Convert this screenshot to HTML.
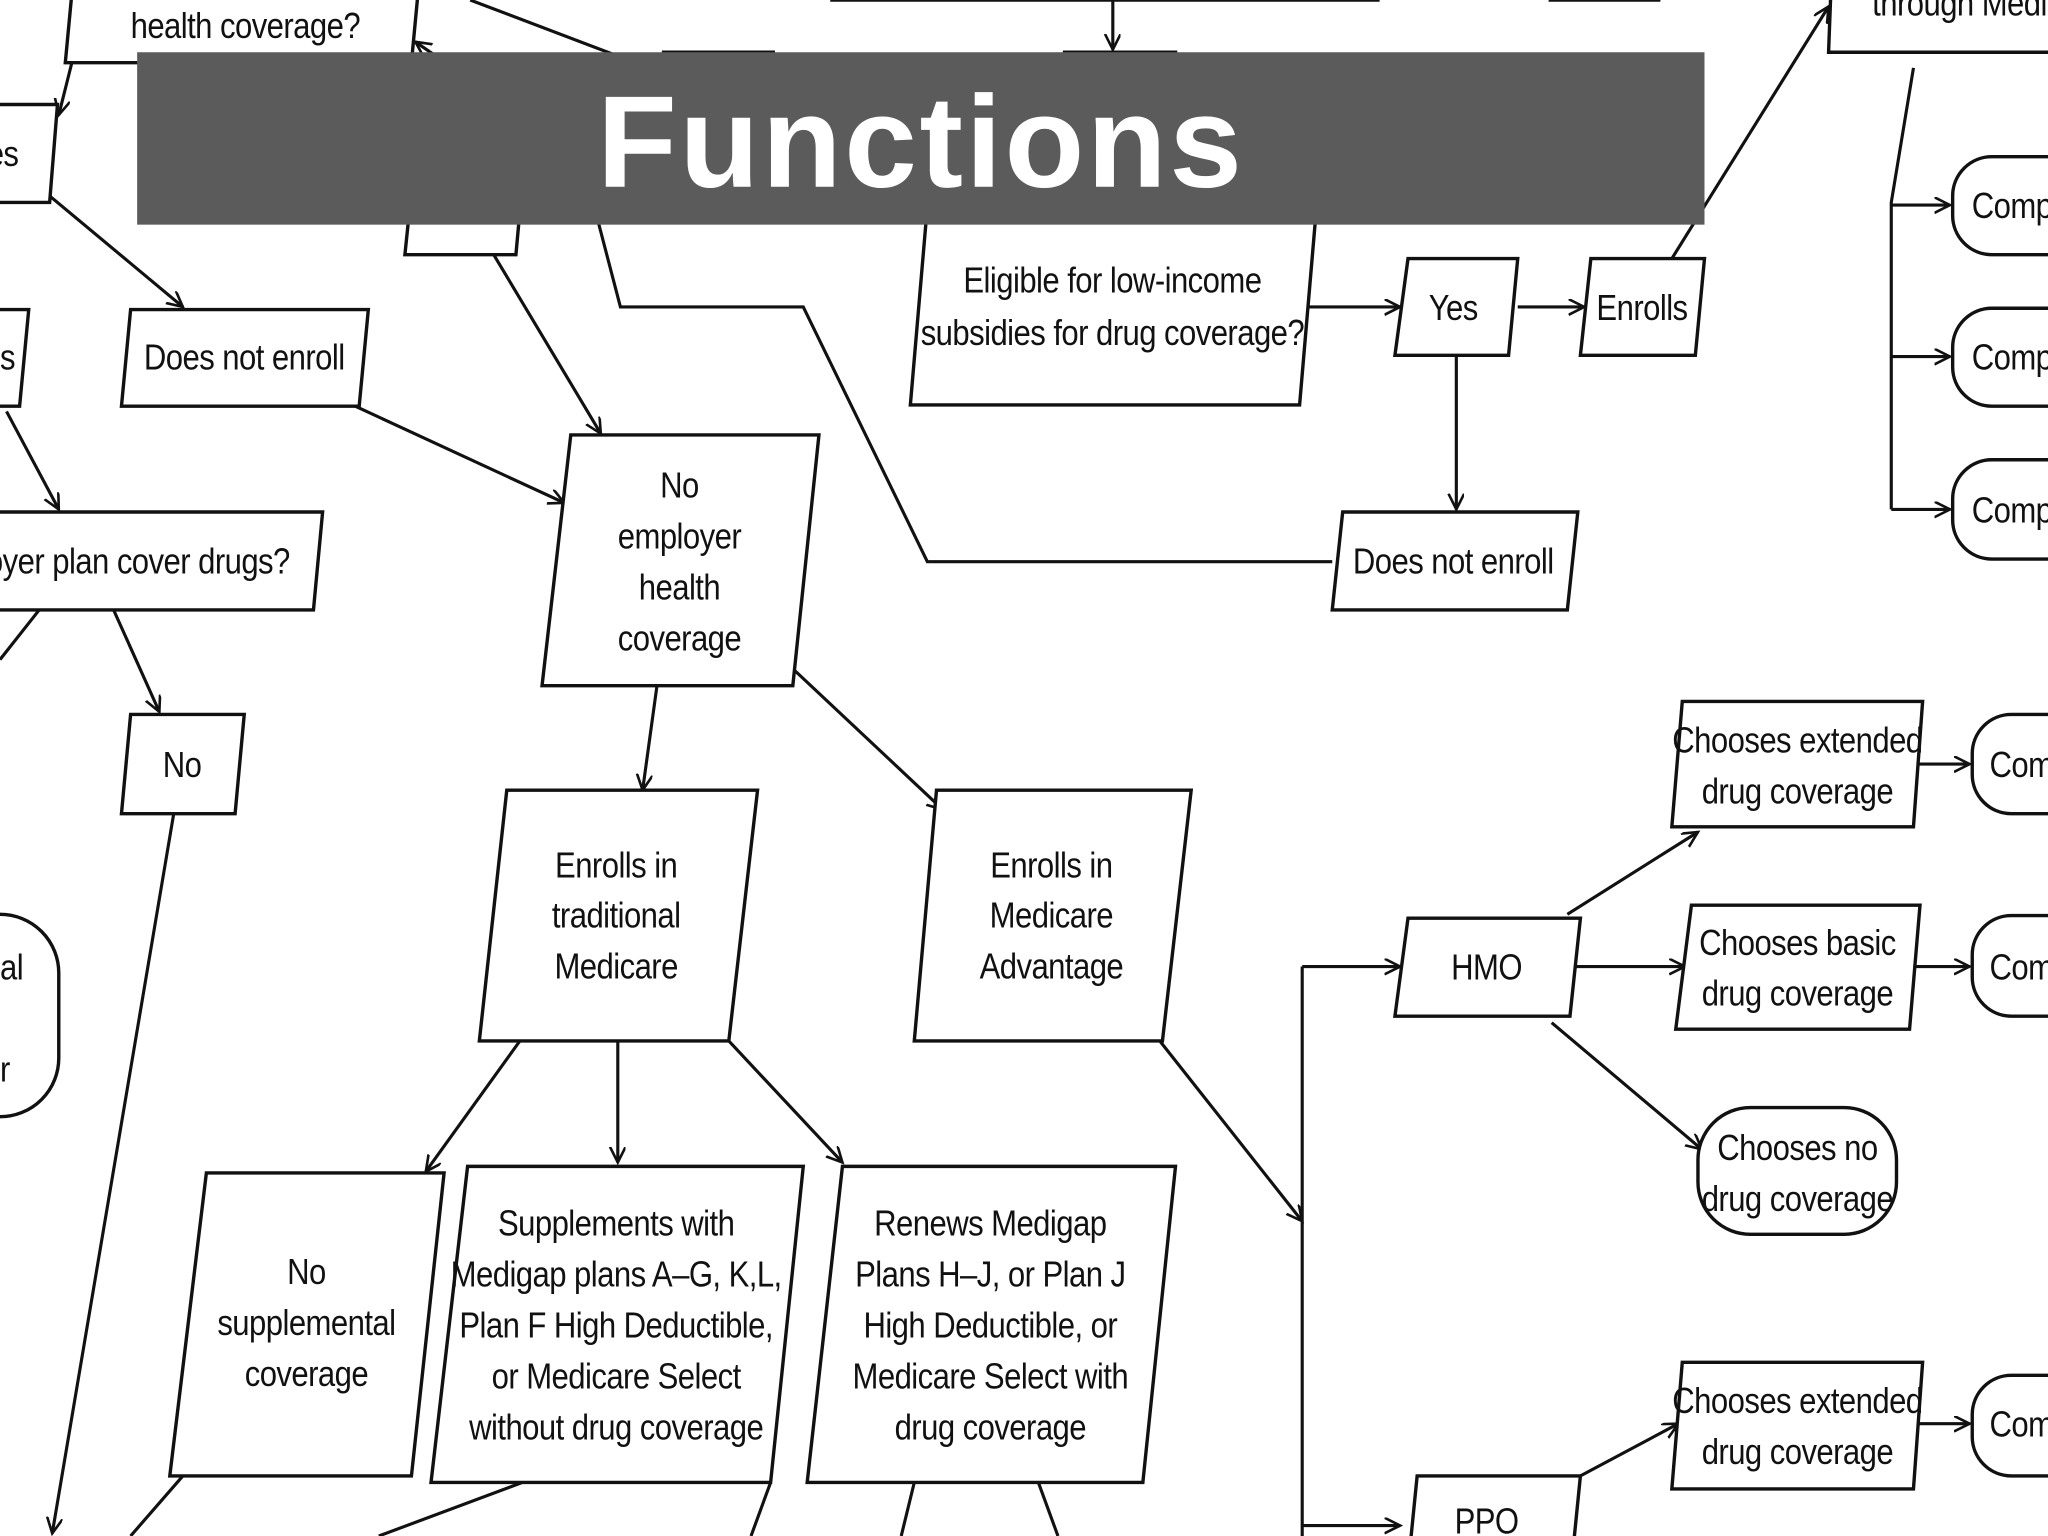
<!DOCTYPE html>
<html><head><meta charset="utf-8"><style>
html,body{margin:0;padding:0;background:#fff;}
svg{display:block;}
text{font-family:"Liberation Sans",Arial,sans-serif;font-size:28px;fill:#111;text-anchor:middle;letter-spacing:-0.5px;}
.s{fill:#fff;stroke:#111;stroke-width:2.6;}
.l{fill:none;stroke:#111;stroke-width:2.4;}
</style></head><body>
<svg width="2048" height="1536" viewBox="0 0 1568 1176" xmlns="http://www.w3.org/2000/svg">
<defs><marker id="a" markerWidth="14" markerHeight="14" refX="12" refY="6" orient="auto" markerUnits="userSpaceOnUse"><path d="M0,0 L12,6 L0,12" fill="none" stroke="#111" stroke-width="2"/></marker></defs>
<rect width="1568" height="1176" fill="#fff"/>
<g class="l">
<line x1="360" y1="0" x2="505" y2="55"/>
<line x1="852" y1="0" x2="852" y2="38" marker-end="url(#a)"/>
<line x1="55" y1="48" x2="45" y2="88" marker-end="url(#a)"/>
<line x1="240" y1="48" x2="318" y2="120" marker-end="url(#a)"/>
<polyline points="1020,430 710,430 615,235 475,235 445,120 318,32" marker-end="url(#a)"/>
<line x1="852" y1="110" x2="852" y2="158" marker-end="url(#a)"/>
<line x1="1000" y1="235" x2="1072" y2="235" marker-end="url(#a)"/>
<line x1="1162" y1="235" x2="1213" y2="235" marker-end="url(#a)"/>
<line x1="1280" y1="198" x2="1400" y2="5" marker-end="url(#a)"/>
<line x1="1115" y1="272" x2="1115" y2="390" marker-end="url(#a)"/>
<polyline points="1465,52 1448,155 1448,390"/>
<line x1="1448" y1="157" x2="1493" y2="157" marker-end="url(#a)"/>
<line x1="1448" y1="273" x2="1493" y2="273" marker-end="url(#a)"/>
<line x1="1448" y1="390" x2="1493" y2="390" marker-end="url(#a)"/>
<line x1="38" y1="150" x2="140" y2="235" marker-end="url(#a)"/>
<line x1="5" y1="315" x2="45" y2="390" marker-end="url(#a)"/>
<line x1="272" y1="311" x2="432" y2="385" marker-end="url(#a)"/>
<line x1="378" y1="195" x2="460" y2="332" marker-end="url(#a)"/>
<line x1="30" y1="467" x2="0" y2="505"/>
<line x1="87" y1="467" x2="122" y2="545" marker-end="url(#a)"/>
<line x1="133" y1="623" x2="40" y2="1174" marker-end="url(#a)"/>
<line x1="503" y1="525" x2="492" y2="605" marker-end="url(#a)"/>
<line x1="607" y1="512" x2="722" y2="620" marker-end="url(#a)"/>
<line x1="398" y1="797" x2="326" y2="897" marker-end="url(#a)"/>
<line x1="473" y1="797" x2="473" y2="890" marker-end="url(#a)"/>
<line x1="558" y1="797" x2="645" y2="890" marker-end="url(#a)"/>
<line x1="888" y1="797" x2="997" y2="935" marker-end="url(#a)"/>
<line x1="997" y1="740" x2="997" y2="1176"/>
<line x1="997" y1="740" x2="1072" y2="740" marker-end="url(#a)"/>
<line x1="997" y1="1168" x2="1072" y2="1168" marker-end="url(#a)"/>
<line x1="1200" y1="700" x2="1300" y2="637" marker-end="url(#a)"/>
<line x1="1205" y1="740" x2="1290" y2="740" marker-end="url(#a)"/>
<line x1="1188" y1="783" x2="1303" y2="880" marker-end="url(#a)"/>
<line x1="1468" y1="585" x2="1508" y2="585" marker-end="url(#a)"/>
<line x1="1465" y1="740" x2="1508" y2="740" marker-end="url(#a)"/>
<line x1="1468" y1="1090" x2="1508" y2="1090" marker-end="url(#a)"/>
<line x1="1210" y1="1130" x2="1285" y2="1090" marker-end="url(#a)"/>
<line x1="140" y1="1130" x2="100" y2="1176"/>
<line x1="400" y1="1135" x2="290" y2="1176"/>
<line x1="590" y1="1135" x2="575" y2="1176"/>
<line x1="700" y1="1135" x2="690" y2="1176"/>
<line x1="795" y1="1135" x2="810" y2="1176"/>
</g>
<g class="s">
<polygon points="55,-5 320,-5 315,48 50,48"/>
<polygon points="640,-40 1058,-40 1055,0 637,0"/>
<polygon points="1190,-40 1273,-40 1270,0 1187,0"/>
<polygon points="1403,-40 1600,-40 1600,40 1400,40"/>
<polygon points="508,40 592,40 587,110 503,110"/>
<polygon points="815,40 900,40 895,110 810,110"/>
<polygon points="-10,80 44,80 38,155 -10,155"/>
<polygon points="318,118 402,118 395,195 310,195"/>
<polygon points="710,158 1008,158 995,310 697,310"/>
<polygon points="1078,198 1162,198 1155,272 1068,272"/>
<polygon points="1218,198 1305,198 1298,272 1210,272"/>
<polygon points="1028,392 1208,392 1200,467 1020,467"/>
<rect x="1495" y="120" width="120" height="75" rx="30"/>
<rect x="1495" y="236" width="120" height="75" rx="30"/>
<rect x="1495" y="352" width="120" height="76" rx="30"/>
<polygon points="100,237 282,237 275,311 93,311"/>
<polygon points="-10,237 22,237 15,311 -10,311"/>
<polygon points="-10,392 247,392 240,467 -10,467"/>
<polygon points="437,333 627,333 607,525 415,525"/>
<polygon points="100,547 187,547 180,623 93,623"/>
<rect x="-80" y="700" width="125" height="155" rx="45"/>
<polygon points="388,605 580,605 558,797 367,797"/>
<polygon points="717,605 912,605 890,797 700,797"/>
<polygon points="1078,703 1210,703 1202,778 1068,778"/>
<polygon points="1288,537 1472,537 1465,633 1280,633"/>
<polygon points="1295,693 1470,693 1462,788 1283,788"/>
<rect x="1300" y="848" width="152" height="97" rx="40"/>
<polygon points="1288,1043 1472,1043 1465,1140 1280,1140"/>
<rect x="1510" y="547" width="100" height="76" rx="30"/>
<rect x="1510" y="701" width="100" height="77" rx="30"/>
<rect x="1510" y="1053" width="100" height="77" rx="30"/>
<polygon points="1085,1130 1210,1130 1203,1200 1078,1200"/>
<polygon points="158,898 340,898 315,1130 130,1130"/>
<polygon points="358,893 615,893 590,1135 330,1135"/>
<polygon points="645,893 900,893 875,1135 618,1135"/>
</g>
<g transform="scale(0.85,1)">
<text x="221" y="29">health coverage?</text>
<text x="1765" y="12">through Medi</text>
<text x="639" y="87">No</text>
<text x="1002" y="87">No</text>
<text x="-12" y="127" style="text-anchor:start">es</text>
<text x="416" y="166">No</text>
<text x="1002" y="224">Eligible for low-income</text>
<text x="1002" y="264">subsidies for drug coverage?</text>
<text x="1309" y="245">Yes</text>
<text x="1479" y="245">Enrolls</text>
<text x="1309" y="439">Does not enroll</text>
<text x="1776" y="167" style="text-anchor:start">Comp</text>
<text x="1776" y="283" style="text-anchor:start">Comp</text>
<text x="1776" y="400" style="text-anchor:start">Comp</text>
<text x="220" y="283">Does not enroll</text>
<text x="0" y="283" style="text-anchor:start">s</text>
<text x="261" y="439" style="text-anchor:end">ployer plan cover drugs?</text>
<text x="612" y="381">No</text>
<text x="612" y="420">employer</text>
<text x="612" y="459">health</text>
<text x="612" y="498">coverage</text>
<text x="164" y="595">No</text>
<text x="0" y="750" style="text-anchor:start">al</text>
<text x="0" y="828" style="text-anchor:start">r</text>
<text x="555" y="672">Enrolls in</text>
<text x="555" y="710">traditional</text>
<text x="555" y="749">Medicare</text>
<text x="947" y="672">Enrolls in</text>
<text x="947" y="710">Medicare</text>
<text x="947" y="749">Advantage</text>
<text x="1339" y="750">HMO</text>
<text x="1619" y="576">Chooses extended</text>
<text x="1619" y="615">drug coverage</text>
<text x="1619" y="731">Chooses basic</text>
<text x="1619" y="770">drug coverage</text>
<text x="1619" y="888">Chooses no</text>
<text x="1619" y="927">drug coverage</text>
<text x="1619" y="1082">Chooses extended</text>
<text x="1619" y="1121">drug coverage</text>
<text x="1792" y="595" style="text-anchor:start">Com</text>
<text x="1792" y="750" style="text-anchor:start">Com</text>
<text x="1792" y="1100" style="text-anchor:start">Com</text>
<text x="1339" y="1174">PPO</text>
<text x="276" y="983">No</text>
<text x="276" y="1022">supplemental</text>
<text x="276" y="1061">coverage</text>
<text x="555" y="946">Supplements with</text>
<text x="555" y="985">Medigap plans A–G, K,L,</text>
<text x="555" y="1024">Plan F High Deductible,</text>
<text x="555" y="1063">or Medicare Select</text>
<text x="555" y="1102">without drug coverage</text>
<text x="892" y="946">Renews Medigap</text>
<text x="892" y="985">Plans H–J, or Plan J</text>
<text x="892" y="1024">High Deductible, or</text>
<text x="892" y="1063">Medicare Select with</text>
<text x="892" y="1102">drug coverage</text>
</g>
<rect x="105" y="40" width="1200" height="132" fill="#5b5b5b"/>
<text x="705" y="143" style="font-size:100px;font-weight:bold;fill:#fff;letter-spacing:2px">Functions</text>
</svg>
</body></html>
